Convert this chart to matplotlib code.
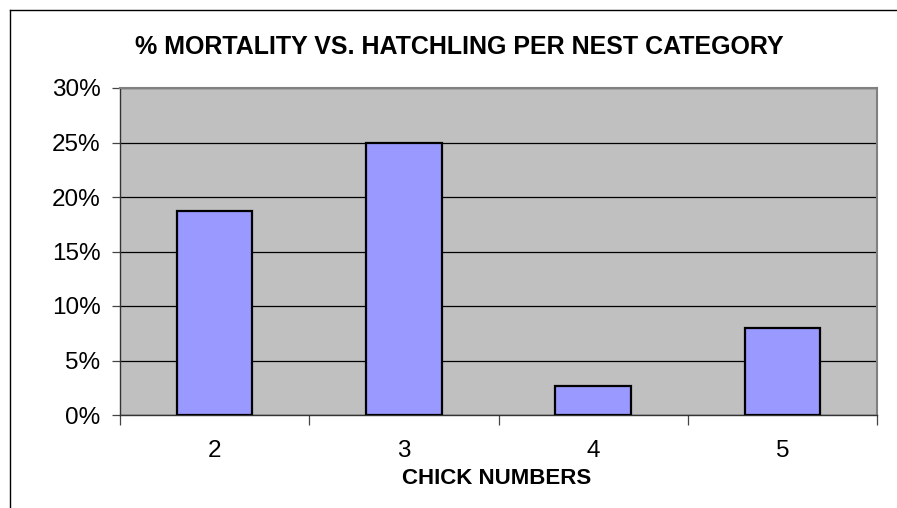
import matplotlib
matplotlib.use("Agg")
import matplotlib.pyplot as plt
from matplotlib.lines import Line2D
from matplotlib.ticker import FuncFormatter

categories = ["2", "3", "4", "5"]
mortality = [18.75, 25.0, 2.7, 8.0]
y_ticks = [0, 5, 10, 15, 20, 25, 30]

W, H = 897, 508
fig = plt.figure(figsize=(W / 100, H / 100), dpi=100)
plt.rcParams["font.family"] = ["Liberation Sans", "DejaVu Sans"]

# plot area in pixel coordinates
left, right, top, bottom = 120, 877, 88, 415
ax = fig.add_axes([left / W, 1 - bottom / H, (right - left) / W, (bottom - top) / H])
ax.set_facecolor("#C0C0C0")

x = list(range(len(categories)))
ax.bar(x, mortality, width=0.4, color="#9999FF", edgecolor="black", linewidth=1.6, zorder=3)

ax.set_xlim(-0.5, len(categories) - 0.5)
ax.set_ylim(0, 30)
ax.set_yticks(y_ticks)
ax.yaxis.set_major_formatter(FuncFormatter(lambda v, p: f"{v:.0f}%"))
ax.grid(axis="y", color="black", linewidth=0.9, zorder=1)
ax.set_axisbelow(True)

ax.set_xticks(x)
ax.set_xticklabels(categories, fontsize=17.5)
ax.tick_params(axis="x", length=0, pad=18)
# tick marks at category boundaries
ax.set_xticks([i - 0.5 for i in range(len(categories) + 1)], minor=True)
ax.tick_params(axis="x", which="minor", length=7, width=0.9, color="#444444")
ax.tick_params(axis="y", length=6, width=0.9, labelsize=17.5, pad=8, color="#444444")

for side in ("top", "right"):
    ax.spines[side].set_color("#808080")
    ax.spines[side].set_linewidth(1.5)
for side in ("left", "bottom"):
    ax.spines[side].set_color("#333333")
    ax.spines[side].set_linewidth(1.0)

fig.text(459 / W, 1 - 47 / H,
         "% MORTALITY VS. HATCHLING PER NEST CATEGORY",
         ha="center", va="center", fontsize=18, fontweight="bold")
fig.text(497 / W, 1 - 478 / H, "CHICK NUMBERS",
         ha="center", va="center", fontsize=16, fontweight="bold")

# outer chart frame
fig.add_artist(Line2D([10 / W, 10 / W], [1 - 10 / H, 0], transform=fig.transFigure,
                      color="black", linewidth=1.0))
fig.add_artist(Line2D([10 / W, 1], [1 - 10 / H, 1 - 10 / H], transform=fig.transFigure,
                      color="black", linewidth=1.0))

fig.savefig("out.png", dpi=100)
